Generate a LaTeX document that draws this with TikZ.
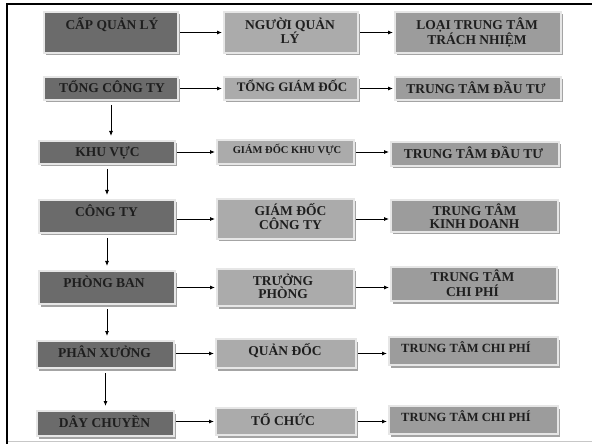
\documentclass[tikz,border=0pt]{standalone}
\usepackage{fontspec}
\setmainfont{Liberation Serif}
\usetikzlibrary{arrows.meta,shadows}

\definecolor{boxdark}{HTML}{6B6B6B}
\definecolor{boxmid}{HTML}{ABABAB}
\definecolor{boxright}{HTML}{9C9C9C}
\definecolor{rim}{HTML}{E6E6E6}
\definecolor{shade}{HTML}{A4A4A4}
\definecolor{ink}{HTML}{1E1E1E}

\tikzset{
  cell/.style={draw=rim, line width=2bp, inner sep=0pt, outer sep=0pt,
    drop shadow={shadow xshift=1.5bp, shadow yshift=-2.5bp, fill=shade, opacity=1}},
  lvl/.style={cell, fill=boxdark},
  mgr/.style={cell, fill=boxmid},
  ctr/.style={cell, fill=boxright},
  lbl/.style={font=\bfseries\fontsize{13.5bp}{16bp}\selectfont, text=ink,
    inner sep=0pt, anchor=base},
  lblsmall/.style={lbl, font=\bfseries\fontsize{10.5bp}{12bp}\selectfont},
  lblmid/.style={lbl, font=\bfseries\fontsize{12.5bp}{14bp}\selectfont},
  lblthirteen/.style={lbl, font=\bfseries\fontsize{13bp}{15bp}\selectfont},
  flow/.style={-{Latex[length=5bp,width=4bp]}, line width=0.8bp, draw=black,
    shorten >=2bp, shorten <=2bp},
  down/.style={flow, shorten >=5bp, shorten <=5bp},
}

% box given by the corners of its filled area: name, style, x1, y1, x2, y2
\newcommand\cellat[6]{%
  \node[#2, minimum width={(#5-#3+2)*1bp}, minimum height={(#6-#4+2)*1bp}]
    (#1) at ({(#3+#5)/2},{(#4+#6)/2}) {};}

\begin{document}
\begin{tikzpicture}[x=1bp, y=-1bp]
\useasboundingbox (0,0) rectangle (592,444);
\fill[white] (0,0) rectangle (592,444);

% page frame
\draw[line width=2.5bp] (7,444) -- (7,4) -- (592,4);
\draw[black!22, line width=0.8bp] (8,441.5) -- (592,441.5);

% row 1: headings
\cellat{cap}{lvl}{45}{13}{177}{52}
\cellat{nguoi}{mgr}{225}{13}{357}{52}
\cellat{loai}{ctr}{396}{13}{560}{52}
% row 2
\cellat{tong}{lvl}{45}{78}{177}{99}
\cellat{tgd}{mgr}{225}{78}{357}{99}
\cellat{ttdtA}{ctr}{396}{78}{560}{99}
% row 3
\cellat{khu}{lvl}{40}{142}{174}{163}
\cellat{gdkv}{mgr}{218}{141}{353}{163}
\cellat{ttdtB}{ctr}{392}{143}{558}{165}
% row 4
\cellat{cty}{lvl}{40}{201}{174}{232}
\cellat{gdct}{mgr}{218}{200}{353}{238}
\cellat{ttkd}{ctr}{392}{201}{557}{231}
% row 5
\cellat{pban}{lvl}{40}{272}{174}{303}
\cellat{tp}{mgr}{218}{270}{353}{305}
\cellat{ttcpA}{ctr}{392}{268}{556}{300}
% row 6
\cellat{px}{lvl}{38}{342}{173}{367}
\cellat{qd}{mgr}{217}{340}{355}{367}
\cellat{ttcpB}{ctr}{390}{338}{557}{364}
% row 7
\cellat{dc}{lvl}{38}{412}{173}{435}
\cellat{tc}{mgr}{217}{409}{355}{434}
\cellat{ttcpC}{ctr}{390}{407}{557}{433}

% labels
\node[lbl] (capT)    at (112,29.5) {CẤP QUẢN LÝ};
\node[lbl] (nguoiT)  at (290,29.5) {NGƯỜI QUẢN};
\node[lbl] (nguoiU)  at (290,44)   {LÝ};
\node[lbl] (loaiT)   at (477,29.5) {LOẠI TRUNG TÂM};
\node[lbl] (loaiU)   at (477,44.5) {TRÁCH NHIỆM};

\node[lbl] (tongT)   at (112,92.5) {TỔNG CÔNG TY};
\node[lblthirteen] (tgdT) at (292,91.5) {TỔNG GIÁM ĐỐC};
\node[lbl] (ttdtAT)  at (476,93.5) {TRUNG TÂM ĐẦU TƯ};

\node[lbl] (khuT)    at (107.5,156.5) {KHU VỰC};
\node[lblsmall] (gdkvT) at (287,153.5) {GIÁM ĐỐC KHU VỰC};
\node[lbl] (ttdtBT)  at (473.5,158.5) {TRUNG TÂM ĐẦU TƯ};

\node[lbl] (ctyT)    at (106.5,216.5) {CÔNG TY};
\node[lbl] (gdctT)   at (290.5,215.5) {GIÁM ĐỐC};
\node[lbl] (gdctU)   at (290.5,229.5) {CÔNG TY};
\node[lbl] (ttkdT)   at (474.5,215.5) {TRUNG TÂM};
\node[lbl] (ttkdU)   at (474.5,228.5) {KINH DOANH};

\node[lbl] (pbanT)   at (104,287.5) {PHÒNG BAN};
\node[lbl] (tpT)     at (283,285.5) {TRƯỞNG};
\node[lbl] (tpU)     at (283,298.5) {PHÒNG};
\node[lbl] (ttcpAT)  at (472.5,281.5) {TRUNG TÂM};
\node[lbl] (ttcpAU)  at (472.5,296.5) {CHI PHÍ};

\node[lbl] (pxT)     at (104.5,357.5) {PHÂN XƯỞNG};
\node[lbl] (qdT)     at (285,355.5) {QUẢN ĐỐC};
\node[lblmid] (ttcpBT) at (466,352) {TRUNG TÂM CHI PHÍ};

\node[lbl] (dcT)     at (104.5,427.5) {DÂY CHUYỀN};
\node[lbl] (tcT)     at (283,425.5) {TỔ CHỨC};
\node[lblmid] (ttcpCT) at (466,421) {TRUNG TÂM CHI PHÍ};

% level -> manager -> responsibility centre
\foreach \a/\b/\c in {cap/nguoi/loai, tong/tgd/ttdtA, khu/gdkv/ttdtB,
                      cty/gdct/ttkd, pban/tp/ttcpA, px/qd/ttcpB, dc/tc/ttcpC}{
  \draw[flow] (\b.west -| \a.east) -- (\b.west);
  \draw[flow] (\b.east) -- (\b.east -| \c.west);
}

% chain of management levels
\foreach \a/\b in {tong/khu, khu/cty, cty/pban, pban/px, px/dc}{
  \draw[down] (\a.south) -- (\a.south |- \b.north);
}
\end{tikzpicture}
\end{document}
